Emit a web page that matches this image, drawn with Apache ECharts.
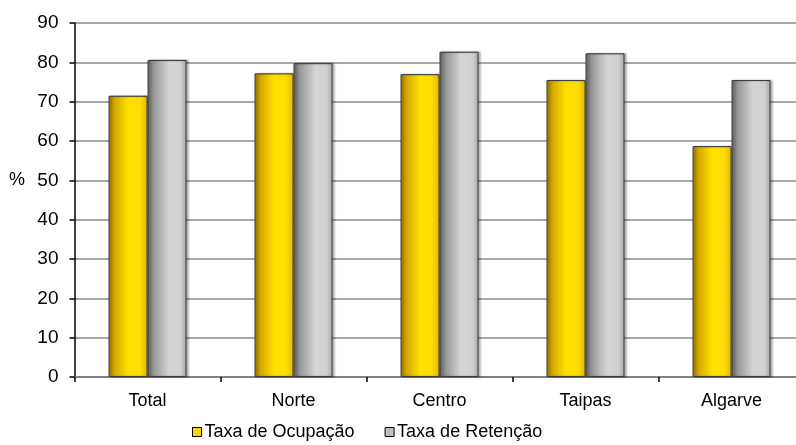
<!DOCTYPE html>
<html>
<head>
<meta charset="utf-8">
<script src="https://cdn.jsdelivr.net/npm/echarts@6/dist/echarts.min.js"></script>
<style>html,body{margin:0;padding:0;background:#fff}#c{width:796px;height:445px}</style>
</head>
<body>
<div id="c"></div>
<script>
const categories = ['Total', 'Norte', 'Centro', 'Taipas', 'Algarve'];
const ocupacao = [71.5, 77.2, 77.0, 75.5, 58.7];
const retencao = [80.6, 79.8, 82.7, 82.3, 75.5];
const seriesNames = ['Taxa de Ocupação', 'Taxa de Retenção'];
const yTicks = { min: 0, max: 90, interval: 10 };
const yAxisTitle = '%';

const chart = echarts.init(document.getElementById('c'), null, { renderer: 'canvas' });
const font = 'Liberation Sans, Arial, sans-serif';
const yellowGrad = new echarts.graphic.LinearGradient(0, 0, 1, 0, [
  { offset: 0, color: '#A88400' },
  { offset: 0.18, color: '#D8AC00' },
  { offset: 0.5, color: '#FFE000' },
  { offset: 0.8, color: '#FFDD00' },
  { offset: 1, color: '#E2B800' }
]);
const grayGrad = new echarts.graphic.LinearGradient(0, 0, 1, 0, [
  { offset: 0, color: '#6E6E6E' },
  { offset: 0.2, color: '#9E9E9E' },
  { offset: 0.55, color: '#D4D4D4' },
  { offset: 0.85, color: '#D0D0D0' },
  { offset: 1, color: '#A6A6A6' }
]);
const barStyle = (c) => ({
  color: c, borderColor: '#3a3a3a', borderWidth: 1,
  shadowColor: 'rgba(0,0,0,0.3)', shadowBlur: 2, shadowOffsetX: 2, shadowOffsetY: 0
});

chart.setOption({
  animation: false,
  backgroundColor: '#fff',
  grid: { left: 74.5, width: 730, top: 23, height: 354, outerBoundsMode: 'none', containLabel: false },
  graphic: [{
    type: 'text', left: 9, top: 171,
    style: { text: yAxisTitle, font: '18px ' + font, fill: '#000' }
  }],
  legend: {
    left: 192, top: 423, padding: 0,
    itemWidth: 9, itemHeight: 9, itemGap: 30,
    icon: 'rect',
    textStyle: { fontFamily: font, fontSize: 18, color: '#000', padding: [0, 0, 0, -2] },
    data: [
      { name: seriesNames[0], itemStyle: { color: '#FFD400', borderColor: '#000', borderWidth: 1 } },
      { name: seriesNames[1], itemStyle: { color: '#C0C0C0', borderColor: '#000', borderWidth: 1 } }
    ]
  },
  xAxis: {
    type: 'category',
    data: categories,
    axisLine: { lineStyle: { color: '#808080', width: 2 } },
    axisTick: { show: true, length: 5, lineStyle: { color: '#000', width: 1.5 } },
    axisLabel: { fontFamily: font, fontSize: 18, color: '#000', margin: 15 }
  },
  yAxis: {
    type: 'value',
    min: yTicks.min, max: yTicks.max, interval: yTicks.interval,
    axisLine: { show: true, lineStyle: { color: '#000', width: 1.5 } },
    axisTick: { show: true, length: 5, lineStyle: { color: '#000', width: 1.5 } },
    axisLabel: { fontFamily: font, fontSize: 19, color: '#000', margin: 16 },
    splitLine: { lineStyle: { color: '#A8A8A8', width: 2 } }
  },
  series: [
    { name: seriesNames[0], type: 'bar', data: ocupacao, barWidth: 39, barGap: '0%', itemStyle: barStyle(yellowGrad) },
    { name: seriesNames[1], type: 'bar', data: retencao, barWidth: 39, barGap: '0%', itemStyle: barStyle(grayGrad) }
  ]
});
</script>
</body>
</html>
